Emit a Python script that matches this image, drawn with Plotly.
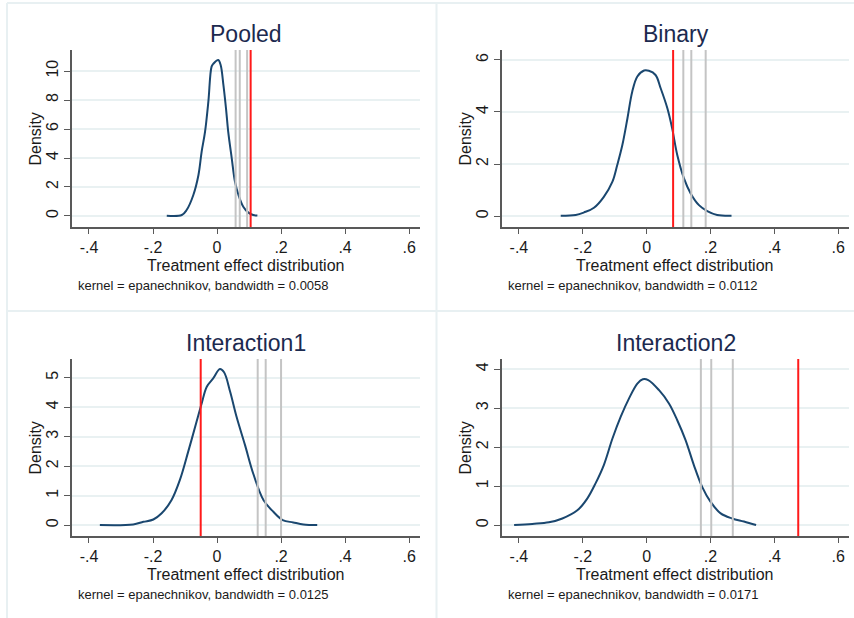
import plotly.graph_objects as go

W, H = 854, 618

# ---------------- data ----------------
panel_titles = ["Pooled", "Binary", "Interaction1", "Interaction2"]
bandwidths = ["0.0058", "0.0112", "0.0125", "0.0171"]

pooled_x = [-0.157, -0.110, -0.095, -0.074, -0.058, -0.048, -0.0375, -0.027, -0.017, -0.0115,
            0.004, 0.0115, 0.020, 0.028, 0.035, 0.046, 0.056, 0.067, 0.082, 0.098, 0.113, 0.126]
pooled_y = [0.02, 0.07, 0.41, 1.45, 2.83, 4.44, 5.8, 7.9, 10.3, 10.5,
            10.76, 10.4, 9.03, 7.43, 5.8, 3.98, 2.37, 1.45, 0.64, 0.23, 0.07, 0.03]

binary_x = [-0.269, -0.222, -0.196, -0.165, -0.134, -0.107, -0.092, -0.076, -0.060, -0.045,
            -0.029, -0.008, 0.007, 0.028, 0.044, 0.065, 0.080, 0.096, 0.117, 0.138,
            0.164, 0.190, 0.221, 0.266]
binary_y = [0.01, 0.04, 0.14, 0.32, 0.74, 1.32, 1.96, 2.73, 3.76, 4.78,
            5.36, 5.59, 5.58, 5.42, 4.91, 4.14, 3.37, 2.35, 1.45, 0.87,
            0.42, 0.19, 0.04, 0.01]

inter1_x = [-0.366, -0.262, -0.230, -0.199, -0.173, -0.142, -0.116, -0.090, -0.064, -0.048,
            -0.032, -0.012, 0.009, 0.022, 0.041, 0.061, 0.0875, 0.113, 0.145, 0.176,
            0.205, 0.238, 0.270, 0.313]
inter1_y = [0.0, 0.02, 0.11, 0.19, 0.40, 0.85, 1.53, 2.49, 3.5, 4.12,
            4.69, 4.97, 5.29, 5.18, 4.52, 3.67, 2.71, 1.75, 0.85, 0.45,
            0.17, 0.09, 0.02, 0.0]

inter2_x = [-0.415, -0.358, -0.306, -0.264, -0.217, -0.186, -0.160, -0.134, -0.107, -0.081,
            -0.055, -0.029, -0.012, 0.005, 0.039, 0.070, 0.096, 0.122, 0.148, 0.174,
            0.200, 0.232, 0.268, 0.305, 0.343]
inter2_y = [0.0, 0.03, 0.07, 0.17, 0.38, 0.68, 1.07, 1.54, 2.22, 2.78,
            3.25, 3.63, 3.74, 3.72, 3.46, 3.12, 2.69, 2.18, 1.54, 0.98,
            0.60, 0.30, 0.17, 0.09, 0.0]

gray_lines = [[0.058, 0.071, 0.094], [0.115, 0.140, 0.185], [0.127, 0.152, 0.200], [0.170, 0.2025, 0.270]]
red_lines = [0.105, 0.083, -0.051, 0.475]

x_tickvals = [-0.4, -0.2, 0, 0.2, 0.4, 0.6]
x_ticktext = ["-.4", "-.2", "0", ".2", ".4", ".6"]
y_tickvals = [[0, 2, 4, 6, 8, 10], [0, 2, 4, 6], [0, 1, 2, 3, 4, 5], [0, 1, 2, 3, 4]]
y_ranges = [[-0.76, 11.45], [-0.42, 6.38], [-0.37, 5.63], [-0.28, 4.26]]
x_range = [-0.453, 0.634]

curves = [(pooled_x, pooled_y), (binary_x, binary_y), (inter1_x, inter1_y), (inter2_x, inter2_y)]

# ---------------- layout geometry (pixels) ----------------
# plot-area boxes: (left, right, top, bottom)
boxes = [(72, 420, 50, 227), (502, 849, 50, 227), (72, 420, 359, 536), (502, 849, 359, 536)]

def px(x):
    return x / W

def py(y):
    return 1 - y / H

fig = go.Figure()
navy = "#1a476f"
axis_col = "#595959"
grid_col = "#e9f1f2"
text_col = "#1a1a1a"
title_col = "#1c2a4f"
FONT = "Liberation Sans, Arial, sans-serif"

annotations = []
shapes = []

for i, (cx, cy) in enumerate(curves):
    n = "" if i == 0 else str(i + 1)
    xa, ya = "x" + n, "y" + n
    l, r, t, b = boxes[i]
    fig.add_trace(go.Scatter(x=cx, y=cy, mode="lines", line=dict(color=navy, width=2),
                             line_shape="spline", xaxis=xa, yaxis=ya, showlegend=False,
                             hoverinfo="skip"))
    fig.layout["xaxis" + n] = dict(
        domain=[px(l), px(r)], range=x_range, anchor=ya,
        tickvals=x_tickvals, ticktext=x_ticktext, ticks="outside", ticklen=5,
        tickwidth=1.3, tickcolor=axis_col, showline=True, linecolor=axis_col, linewidth=1.5,
        showgrid=False, zeroline=False, tickfont=dict(size=16, color=text_col, family=FONT),
        fixedrange=True)
    fig.layout["yaxis" + n] = dict(
        domain=[py(b), py(t)], range=y_ranges[i], anchor=xa,
        tickvals=y_tickvals[i], ticktext=[str(v) for v in y_tickvals[i]],
        ticks="outside", ticklen=6, tickwidth=1.3, tickcolor=axis_col, tickangle=-90,
        showline=True, linecolor=axis_col, linewidth=1.5,
        showgrid=True, gridcolor=grid_col, gridwidth=1.5, zeroline=False,
        tickfont=dict(size=16, color=text_col, family=FONT), fixedrange=True)

    for g in gray_lines[i]:
        shapes.append(dict(type="line", xref=xa, yref=ya + " domain", x0=g, x1=g, y0=0.0, y1=1,
                           line=dict(color="#c4c4c4", width=2)))
    shapes.append(dict(type="line", xref=xa, yref=ya + " domain", x0=red_lines[i], x1=red_lines[i],
                       y0=0.0, y1=1, line=dict(color="#ff1a1a", width=2)))

    # title
    annotations.append(dict(text=panel_titles[i], xref="paper", yref="paper",
                            x=px((l + r) / 2), y=py(t - 16), xanchor="center", yanchor="middle",
                            showarrow=False, font=dict(size=23, color=title_col, family=FONT)))
    # x title
    annotations.append(dict(text="Treatment effect distribution", xref="paper", yref="paper",
                            x=px((l + r) / 2 - 1), y=py(b + 38), xanchor="center", yanchor="middle",
                            showarrow=False, font=dict(size=16, color=text_col, family=FONT)))
    # note
    annotations.append(dict(text="kernel = epanechnikov, bandwidth = " + bandwidths[i],
                            xref="paper", yref="paper", x=px(l + 4), y=py(b + 58),
                            xanchor="left", yanchor="middle", showarrow=False,
                            font=dict(size=13, color=text_col, family=FONT)))
    # y title
    annotations.append(dict(text="Density", xref="paper", yref="paper", textangle=-90,
                            x=px(l - 37), y=py((t + b) / 2 + 1), xanchor="center", yanchor="middle",
                            showarrow=False, font=dict(size=16, color=text_col, family=FONT)))

# panel separators
sep_col = "#e8f0f2"
for (x0, y0, x1, y1) in [(7, 3, 854, 3), (7, 3, 7, 618), (436.5, 3, 436.5, 618), (7, 311, 854, 311)]:
    shapes.append(dict(type="line", xref="paper", yref="paper", x0=px(x0), y0=py(y0),
                       x1=px(x1), y1=py(y1), line=dict(color=sep_col, width=2)))

fig.update_layout(width=W, height=H, margin=dict(l=0, r=0, t=0, b=0),
                  paper_bgcolor="white", plot_bgcolor="white",
                  annotations=annotations, shapes=shapes, showlegend=False,
                  font=dict(family=FONT))

fig.write_html("out.html")
